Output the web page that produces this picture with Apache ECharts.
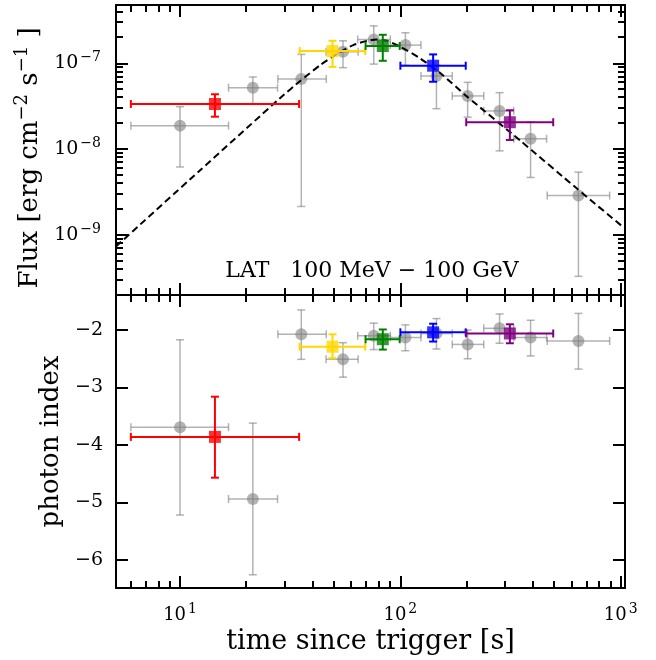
<!DOCTYPE html>
<html>
<head>
<meta charset="utf-8">
<script src="https://cdn.jsdelivr.net/npm/echarts@6/dist/echarts.min.js"></script>
<style>
  html, body { margin: 0; padding: 0; background: #fff; }
  #chart { width: 656px; height: 660px; }
</style>
</head>
<body>
<div id="chart"></div>
<script>
// gray points: finer time bins
var grayT      = [10.0, 21.4, 35.5, 54.9, 75.7, 105.4, 145.8, 202, 282, 390, 643];
var grayTLo    = [5.98, 16.6, 27.8, 46.0, 64.0, 90.0, 124, 172, 239, 327, 464];
var grayTHi    = [16.6, 27.7, 46.1, 64.3, 90.0, 124, 172, 239, 327, 461, 891];
var grayFlux   = [1.88e-8, 5.2e-8, 6.57e-8, 1.36e-7, 1.9e-7, 1.63e-7, 7.12e-8, 4.17e-8, 2.79e-8, 1.32e-8, 2.88e-9];
var grayFluxHi = [3.13e-8, 6.93e-8, 1.27e-7, 1.83e-7, 2.73e-7, 2.27e-7, 9.5e-8, 6.0e-8, 4.55e-8, 2.09e-8, 5.4e-9];
var grayFluxLo = [6.2e-9, 3.39e-8, 2.15e-9, 8.9e-8, 9.8e-8, 9.5e-8, 2.96e-8, 2.36e-8, 9.55e-9, 4.68e-9, 3.3e-10];
var grayIdx    = [-3.69, -4.94, -2.075, -2.51, -2.10, -2.13, -2.06, -2.25, -1.97, -2.13, -2.19];
var grayIdxHi  = [-2.17, -3.62, -1.65, -2.22, -1.88, -1.91, -1.80, -2.00, -1.72, -1.83, -1.71];
var grayIdxLo  = [-5.22, -6.26, -2.51, -2.82, -2.34, -2.36, -2.33, -2.50, -2.23, -2.45, -2.68];

// coloured points: wide time bins
var binColors  = ['#ff0000', '#ffd700', '#008000', '#0000ff', '#800080'];
var binT       = [14.4, 49.2, 83.2, 140.8, 314];
var binTLo     = [5.98, 34.9, 69.5, 100, 199];
var binTHi     = [34.7, 69.3, 99.3, 198, 494];
var binFlux    = [3.36e-8, 1.39e-7, 1.59e-7, 9.38e-8, 2.06e-8];
var binFluxHi  = [4.36e-8, 1.83e-7, 2.15e-7, 1.27e-7, 2.84e-8];
var binFluxLo  = [2.39e-8, 9.1e-8, 1.07e-7, 6.1e-8, 1.28e-8];
var binIdx     = [-3.86, -2.29, -2.16, -2.04, -2.06];
var binIdxHi   = [-3.16, -2.075, -1.99, -1.89, -1.90];
var binIdxLo   = [-4.57, -2.49, -2.34, -2.20, -2.23];

// dashed model curve
var modelT     = [5.12, 12.3, 28.5, 35.1, 43.3, 53.4, 61.1, 70.6, 77.8, 87.0, 100, 123, 152, 201, 351, 635, 1032];
var modelFlux  = [7.36e-10, 5.65e-9, 3.95e-8, 6.23e-8, 9.55e-8, 1.36e-7, 1.63e-7, 1.83e-7, 1.89e-7, 1.83e-7, 1.56e-7, 1.14e-7, 7.65e-8, 4.09e-8, 1.25e-8, 3.45e-9, 1.22e-9];

// tick labels
var xTicks    = [10, 100, 1000];
var fluxTicks = [1e-9, 1e-8, 1e-7];
var idxTicks  = [-6, -5, -4, -3, -2];

var X_MIN = 5.12, X_MAX = 1046;
var F_MIN = 2.0e-10, F_MAX = 4.78e-7;
var I_MIN = -6.49, I_MAX = -1.39;
var FONT = 'DejaVu Serif';
var MINUS = '\u2212';

function minorLog(lo, hi, k0, k1) {
  var out = [];
  for (var k = k0; k <= k1; k++) {
    for (var m = 2; m <= 9; m++) {
      var v = m * Math.pow(10, k);
      if (v > lo * 1.001 && v < hi * 0.999) out.push(v);
    }
  }
  return out;
}
var minorX = minorLog(X_MIN, X_MAX, 0, 3);
var minorF = minorLog(F_MIN, F_MAX, -10, -7);

function powLabel(v) {
  var e = Math.round(Math.log10(v));
  return '10{sup|' + (e < 0 ? MINUS + (-e) : e) + '}';
}

function labelStyle(size, sup) {
  return {
    fontFamily: FONT, fontSize: size, color: '#000',
    rich: { sup: { fontFamily: FONT, fontSize: sup, color: '#000', padding: [0, 0, 12, 2] } }
  };
}

function axis(type, grid, pos, range, ticks, label, margin, size) {
  var ax = {
    type: type, gridIndex: grid, position: pos, min: range[0], max: range[1],
    axisLine: { show: true, onZero: false, lineStyle: { color: '#000', width: 2 } },
    axisTick: { show: true, inside: true, length: 12, customValues: ticks,
                lineStyle: { color: '#000', width: 2 } },
    axisLabel: { show: false },
    splitLine: { show: false }
  };
  if (type === 'log') ax.logBase = 10;
  if (label) {
    ax.axisLabel = Object.assign({ show: true, margin: margin, customValues: ticks, formatter: label },
                                 labelStyle(size, 14));
  }
  return ax;
}

function errRows(t, tLo, tHi, v, vLo, vHi) {
  return t.map(function (x, i) { return [x, v[i], tLo[i], tHi[i], vLo[i], vHi[i]]; });
}

function seg(x1, y1, x2, y2, col, w) {
  return { type: 'line', shape: { x1: x1, y1: y1, x2: x2, y2: y2 },
           style: { stroke: col, lineWidth: w, fill: null } };
}

function errorBars(rows, xi, yi, colorOf, width, z) {
  return {
    type: 'custom', xAxisIndex: xi, yAxisIndex: yi, z: z,
    data: rows,
    encode: { x: [0, 2, 3], y: [1, 4, 5] },
    renderItem: function (params, api) {
      var x = api.value(0), y = api.value(1);
      var l = api.coord([api.value(2), y]), r = api.coord([api.value(3), y]);
      var b = api.coord([x, api.value(4)]), t = api.coord([x, api.value(5)]);
      var c = 4, col = colorOf(params.dataIndex);
      return { type: 'group', children: [
        seg(l[0], l[1], r[0], r[1], col, width),
        seg(b[0], b[1], t[0], t[1], col, width),
        seg(l[0], l[1] - c, l[0], l[1] + c, col, width),
        seg(r[0], r[1] - c, r[0], r[1] + c, col, width),
        seg(b[0] - c, b[1], b[0] + c, b[1], col, width),
        seg(t[0] - c, t[1], t[0] + c, t[1], col, width)
      ] };
    }
  };
}

function pairs(a, b) { return a.map(function (x, i) { return [x, b[i]]; }); }

var grayBar = function () { return 'rgba(128,128,128,0.6)'; };
var grayDot = 'rgba(128,128,128,0.75)';
var binCol = function (i) { return binColors[i]; };

var chart = echarts.init(document.getElementById('chart'));
chart.setOption({
  animation: false,
  backgroundColor: '#fff',
  grid: [
    { left: 116, top: 5, width: 509, height: 290 },
    { left: 116, top: 295, width: 509, height: 293 }
  ],
  xAxis: [
    axis('log', 0, 'bottom', [X_MIN, X_MAX], xTicks),
    axis('log', 0, 'top', [X_MIN, X_MAX], xTicks),
    Object.assign(axis('log', 1, 'bottom', [X_MIN, X_MAX], xTicks, powLabel, 14, 18), {
      name: 'time since trigger [s]', nameLocation: 'middle', nameGap: 40,
      nameTextStyle: { fontFamily: FONT, fontSize: 27, color: '#000' }
    }),
    axis('log', 1, 'top', [X_MIN, X_MAX], xTicks)
  ],
  yAxis: [
    Object.assign(axis('log', 0, 'left', [F_MIN, F_MAX], fluxTicks, powLabel, 15, 19), {
      name: 'Flux [erg cm{sup|' + MINUS + '2} s{sup|' + MINUS + '1} ]',
      nameLocation: 'middle', nameRotate: 90, nameGap: 67,
      nameTextStyle: { fontFamily: FONT, fontSize: 26, color: '#000', padding: [0, 16, 0, 0],
        rich: { sup: { fontFamily: FONT, fontSize: 18, color: '#000', padding: [0, 0, 15, 0] } } }
    }),
    axis('log', 0, 'right', [F_MIN, F_MAX], fluxTicks),
    Object.assign(axis('value', 1, 'left', [I_MIN, I_MAX], idxTicks, function (v) {
      return (v < 0 ? MINUS : '') + Math.abs(v);
    }, 13, 19), {
      name: 'photon index', nameLocation: 'middle', nameRotate: 90, nameGap: 51,
      nameTextStyle: { fontFamily: FONT, fontSize: 26, color: '#000' }
    }),
    axis('value', 1, 'right', [I_MIN, I_MAX], idxTicks)
  ],
  series: [
    errorBars(errRows(grayT, grayTLo, grayTHi, grayFlux, grayFluxLo, grayFluxHi), 0, 0, grayBar, 1.5, 2),
    { type: 'scatter', xAxisIndex: 0, yAxisIndex: 0, z: 3, symbol: 'circle', symbolSize: 12,
      itemStyle: { color: grayDot }, data: pairs(grayT, grayFlux) },
    { type: 'line', xAxisIndex: 0, yAxisIndex: 0, z: 4, showSymbol: false, smooth: 0.2,
      lineStyle: { color: '#000', width: 2, type: [7, 4] }, data: pairs(modelT, modelFlux) },
    errorBars(errRows(binT, binTLo, binTHi, binFlux, binFluxLo, binFluxHi), 0, 0, binCol, 2, 5),
    { type: 'scatter', xAxisIndex: 0, yAxisIndex: 0, z: 6, symbol: 'rect', symbolSize: 12,
      itemStyle: { color: function (p) { return binColors[p.dataIndex]; } }, data: pairs(binT, binFlux) },

    errorBars(errRows(grayT, grayTLo, grayTHi, grayIdx, grayIdxLo, grayIdxHi), 2, 2, grayBar, 1.5, 2),
    { type: 'scatter', xAxisIndex: 2, yAxisIndex: 2, z: 3, symbol: 'circle', symbolSize: 12,
      itemStyle: { color: grayDot }, data: pairs(grayT, grayIdx) },
    errorBars(errRows(binT, binTLo, binTHi, binIdx, binIdxLo, binIdxHi), 2, 2, binCol, 2, 5),
    { type: 'scatter', xAxisIndex: 2, yAxisIndex: 2, z: 6, symbol: 'rect', symbolSize: 12,
      itemStyle: { color: function (p) { return binColors[p.dataIndex]; } }, data: pairs(binT, binIdx) }
  ]
});

// panel text plus minor ticks, positioned through the axes' own scales
var L = 7, W = 2;
var graphics = [{
  type: 'text', x: 372, y: 271, z: 10,
  style: { text: 'LAT   100 MeV ' + MINUS + ' 100 GeV', font: '22px "DejaVu Serif"', fill: '#000',
           textAlign: 'center', textVerticalAlign: 'middle' }
}];
function px(axisIdx, v) { return Math.round(chart.convertToPixel({ xAxisIndex: axisIdx }, v)); }
function py(axisIdx, v) { return Math.round(chart.convertToPixel({ yAxisIndex: axisIdx }, v)); }
function tick(x1, y1, x2, y2) {
  graphics.push({ type: 'line', z: 20, silent: true, shape: { x1: x1, y1: y1, x2: x2, y2: y2 },
                  style: { stroke: '#000', lineWidth: W } });
}
var left = px(0, X_MIN), right = px(0, X_MAX);
var top0 = py(0, F_MAX), bot0 = py(0, F_MIN);
var top1 = py(2, I_MAX), bot1 = py(2, I_MIN);
minorX.forEach(function (v) {
  var x = px(0, v);
  tick(x, top0, x, top0 + L); tick(x, bot0, x, bot0 - L);
  tick(x, top1, x, top1 + L); tick(x, bot1, x, bot1 - L);
});
minorF.forEach(function (v) {
  var y = py(0, v);
  tick(left, y, left + L, y); tick(right, y, right - L, y);
});
chart.setOption({ graphic: { elements: graphics } });
</script>
</body>
</html>
